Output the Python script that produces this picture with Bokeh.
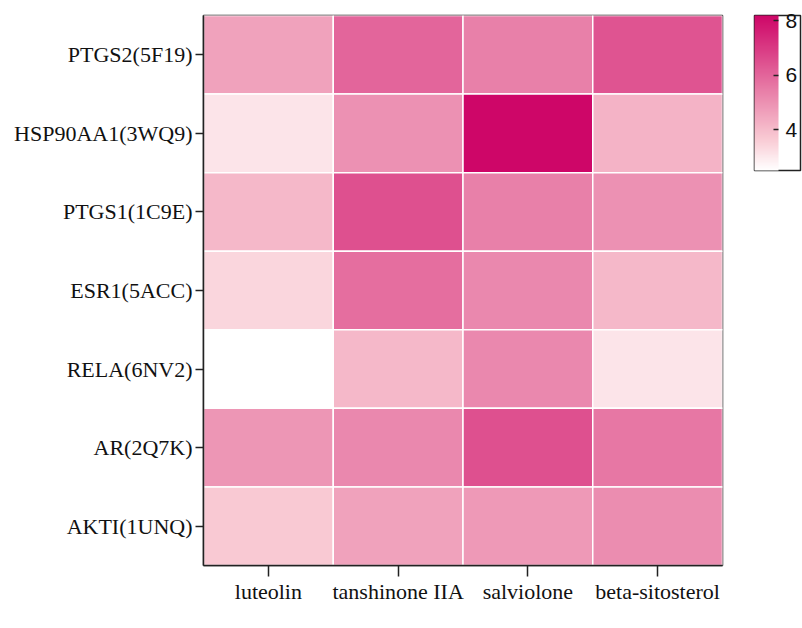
from bokeh.plotting import figure
from bokeh.models import ColumnDataSource, LinearColorMapper, ColorBar, FixedTicker
from bokeh.transform import transform
from bokeh.embed import file_html
from bokeh.resources import INLINE

# Compounds (columns) and targets (rows, top to bottom)
compounds = ["luteolin", "tanshinone IIA", "salviolone", "beta-sitosterol"]
targets = ["PTGS2(5F19)", "HSP90AA1(3WQ9)", "PTGS1(1C9E)", "ESR1(5ACC)",
           "RELA(6NV2)", "AR(2Q7K)", "AKTI(1UNQ)"]

# Docking scores per target, one entry per compound
ptgs2 = [4.6, 6.0, 5.4, 6.4]
hsp90aa1 = [3.1, 5.0, 8.2, 4.2]
ptgs1 = [4.1, 6.5, 5.4, 5.0]
esr1 = [3.4, 5.8, 5.2, 4.1]
rela = [2.5, 4.1, 5.2, 3.1]
ar = [4.9, 5.2, 6.5, 5.6]
akti = [3.7, 4.6, 4.8, 5.1]

rows = [ptgs2, hsp90aa1, ptgs1, esr1, rela, ar, akti]

xs, ys, vals = [], [], []
for tgt, row in zip(targets, rows):
    for cmp_, v in zip(compounds, row):
        xs.append(cmp_)
        ys.append(tgt)
        vals.append(v)
source = ColumnDataSource(dict(compound=xs, target=ys, value=vals))

# white -> rose pink -> deep magenta gradient
stops = [(0.0, (255, 255, 255)),
         (0.2, (249, 203, 212)),
         (0.5, (233, 130, 170)),
         (1.0, (206, 6, 104))]
n = 256
palette = []
for i in range(n):
    f = i / (n - 1)
    for (f0, c0), (f1, c1) in zip(stops[:-1], stops[1:]):
        if f0 <= f <= f1:
            u = (f - f0) / (f1 - f0)
            r, g, b = (round(c0[k] + (c1[k] - c0[k]) * u) for k in range(3))
            break
    palette.append(f"#{r:02x}{g:02x}{b:02x}")

vmin, vmax = min(vals), max(vals)
mapper = LinearColorMapper(palette=palette, low=vmin, high=vmax)

p = figure(width=802, height=628,
           x_range=compounds, y_range=list(reversed(targets)),
           output_backend="svg", toolbar_location=None,
           min_border_left=203, min_border_right=80,
           min_border_top=15, min_border_bottom=63)

p.rect(x="compound", y="target", width=1, height=1, source=source,
       fill_color=transform("value", mapper),
       line_color="white", line_width=1.5)

p.grid.visible = False
p.outline_line_color = "#222222"
p.outline_line_width = 1.5
p.background_fill_color = "white"
p.border_fill_color = "white"

serif = "Liberation Serif"
for ax in (p.xaxis, p.yaxis):
    ax.axis_line_color = "#222222"
    ax.axis_line_width = 1.5
    ax.major_tick_line_color = "#222222"
    ax.major_tick_line_width = 1.5
    ax.major_tick_in = 0
    ax.minor_tick_line_color = None
    ax.major_label_text_font = serif
    ax.major_label_text_font_size = "22px"
    ax.major_label_text_color = "#111111"

p.xaxis.major_tick_out = 11
p.xaxis.major_label_standoff = 2
p.yaxis.major_tick_out = 8
p.yaxis.major_label_standoff = 3

color_bar = ColorBar(color_mapper=mapper,
                     ticker=FixedTicker(ticks=[4, 6, 8]),
                     location=(551, 395), width=24, height=155,
                     padding=0, margin=0,
                     border_line_color="#222222", border_line_width=1.5,
                     background_fill_alpha=0,
                     major_tick_line_color="#222222", major_tick_in=5,
                     major_tick_line_width=1.5,
                     major_label_text_font="Liberation Sans",
                     major_label_text_font_size="21px",
                     major_label_text_color="#111111",
                     label_standoff=7)
p.add_layout(color_bar, "center")

open("out.html", "w").write(file_html(p, INLINE))
